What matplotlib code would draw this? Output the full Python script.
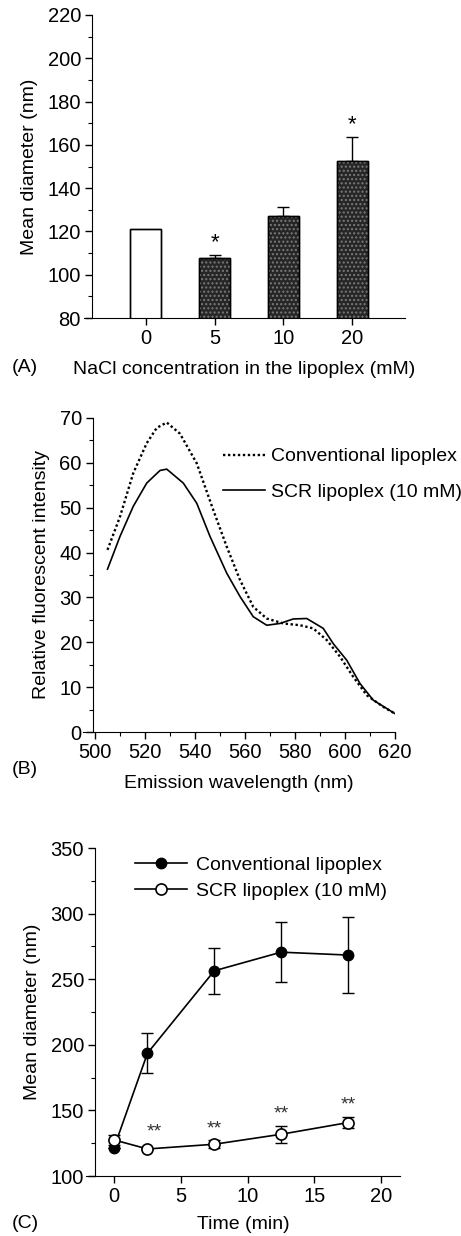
import matplotlib.pyplot as plt
import numpy as np
from matplotlib.ticker import MultipleLocator

plt.rcParams["font.family"] = ["Liberation Sans", "DejaVu Sans"]
plt.rcParams["font.size"] = 14

# (A) bar chart
nacl_labels = ["0", "5", "10", "20"]
nacl_diam = [121, 107.5, 127, 152.5]
nacl_err = [0, 1.5, 4.5, 11]
nacl_star = [False, True, False, True]

# (B) emission spectra
wl_conv = [505, 510, 515.3, 520.7, 524.7, 528.7, 534, 540.7, 547.3, 552.7, 558, 563.3,
           568.7, 575.3, 582, 587.3, 592.7, 598, 603.3, 608.7, 615.3, 620]
int_conv = [40.6, 48, 57.7, 64.4, 67.8, 69.0, 66.5, 59.9, 49.5, 41.3, 33.9, 27.9,
            25.3, 24.2, 23.8, 23.1, 20.5, 16.8, 12.3, 8.2, 5.6, 4.1]
wl_scr = [505, 510, 515.3, 520.7, 526, 528.7, 535.3, 540.7, 546, 552.7, 558, 563.3,
          568.7, 574, 579.3, 584.7, 591.3, 595.3, 600.7, 606, 611.3, 620]
int_scr = [36.3, 43.6, 50.3, 55.5, 58.3, 58.6, 55.5, 51, 43.6, 35.4, 30.2, 25.7,
           23.8, 24.2, 25.2, 25.3, 23.1, 19.7, 16.0, 10.8, 7.1, 4.1]

# (C) time course
time_min = [0, 2.5, 7.5, 12.5, 17.5]
conv_diam = [121.6, 193.6, 256.4, 270.6, 268.4]
conv_err = [0, 15.3, 17.5, 22.9, 29]
scr_diam = [127.5, 120.6, 124.2, 131.8, 140.7]
scr_err = [3.7, 0, 3, 6.5, 4.2]
star_x = [3.0, 7.5, 12.5, 17.5]
star_y = [133.5, 136, 147.5, 154.5]

W, H = 461, 1236
fig = plt.figure(figsize=(W / 100, H / 100), dpi=100)


def style(ax, spine_off):
    for s in ["top", "right"]:
        ax.spines[s].set_visible(False)
    ax.spines["left"].set_position(("axes", spine_off))
    ax.tick_params(which="major", length=5, width=1, direction="out", pad=3, labelsize=14.5)
    ax.tick_params(which="minor", length=3, width=0.8, direction="out")


# ---- (A)
axA = fig.add_axes([84 / W, 1 - 318 / H, 321 / W, 303 / H])
pos = np.arange(len(nacl_labels))
colors = ["white", "#262626", "#262626", "#262626"]
axA.bar(pos, nacl_diam, width=0.45, color=colors, edgecolor="black", lw=1, zorder=2)
axA.bar(pos[1:], nacl_diam[1:], width=0.45, color="none", edgecolor="#7a7a7a",
        hatch="....", lw=0, zorder=3)
axA.bar(pos, nacl_diam, width=0.45, color="none", edgecolor="black", lw=1, zorder=4)
axA.errorbar(pos[1:], nacl_diam[1:], yerr=[[0] * 3, nacl_err[1:]], fmt="none",
             ecolor="black", elinewidth=1, capsize=4, zorder=1)
for p, v, e, s in zip(pos, nacl_diam, nacl_err, nacl_star):
    if s:
        axA.text(p, v + e + 1, "*", ha="center", va="bottom", fontsize=16)
axA.set_ylim(80, 220)
axA.set_xlim(-0.9, 3.77)
axA.set_xticks(pos)
axA.set_xticklabels(nacl_labels)
axA.yaxis.set_major_locator(MultipleLocator(20))
axA.yaxis.set_minor_locator(MultipleLocator(10))
style(axA, 0.025)
axA.set_ylabel("Mean diameter (nm)", labelpad=7)
axA.set_xlabel("NaCl concentration in the lipoplex (mM)", labelpad=9)
fig.text(12 / W, 1 - 368 / H, "(A)", va="center")

# ---- (B)
axB = fig.add_axes([83 / W, 1 - 732 / H, 312 / W, 314 / H])
axB.plot(wl_conv, int_conv, color="black", lw=1.7, ls=(0, (1, 1.1)), label="Conventional lipoplex")
axB.plot(wl_scr, int_scr, color="black", lw=1.2, label="SCR lipoplex (10 mM)")
axB.set_xlim(495.2, 620)
axB.set_ylim(0, 70)
axB.xaxis.set_major_locator(MultipleLocator(20))
axB.xaxis.set_minor_locator(MultipleLocator(10))
axB.yaxis.set_major_locator(MultipleLocator(10))
axB.yaxis.set_minor_locator(MultipleLocator(5))
style(axB, 0.032)
axB.legend(loc="upper left", bbox_to_anchor=(0.449, 0.905), frameon=False, borderpad=0,
           borderaxespad=0, handlelength=2.15, handletextpad=0.3, labelspacing=0.9)
axB.set_ylabel("Relative fluorescent intensity", labelpad=7)
axB.set_xlabel("Emission wavelength (nm)", labelpad=9)
fig.text(12 / W, 1 - 770 / H, "(B)", va="center")

# ---- (C)
axC = fig.add_axes([86 / W, 1 - 1176 / H, 314 / W, 328 / H])
axC.errorbar(time_min, conv_diam, yerr=conv_err, fmt="none", ecolor="black",
             elinewidth=1, capsize=4, zorder=2)
axC.plot(time_min, conv_diam, color="black", lw=1.2, marker="o", ms=7.5,
         mfc="black", mec="black", label="Conventional lipoplex", zorder=3)
axC.errorbar(time_min, scr_diam, yerr=scr_err, fmt="none", ecolor="black",
             elinewidth=1, capsize=4, zorder=4)
axC.plot(time_min, scr_diam, color="black", lw=1.2, marker="o", ms=8,
         mfc="white", mec="black", mew=1.2, label="SCR lipoplex (10 mM)", zorder=5)
for t, y in zip(star_x, star_y):
    axC.text(t, y, "**", ha="center", va="center", fontsize=14, color="#333333")
axC.set_xlim(-2.1, 21.4)
axC.set_ylim(100, 350)
axC.xaxis.set_major_locator(MultipleLocator(5))
axC.yaxis.set_major_locator(MultipleLocator(50))
axC.yaxis.set_minor_locator(MultipleLocator(25))
style(axC, 0.029)
axC.legend(loc="upper left", bbox_to_anchor=(0.156, 0.975), frameon=False, borderpad=0,
           borderaxespad=0, handlelength=2.7, handletextpad=0.45, labelspacing=0.45)
axC.set_ylabel("Mean diameter (nm)", labelpad=7)
axC.set_xlabel("Time (min)", labelpad=7)
fig.text(12 / W, 1 - 1224 / H, "(C)", va="center")

fig.savefig("out.png", dpi=100)
